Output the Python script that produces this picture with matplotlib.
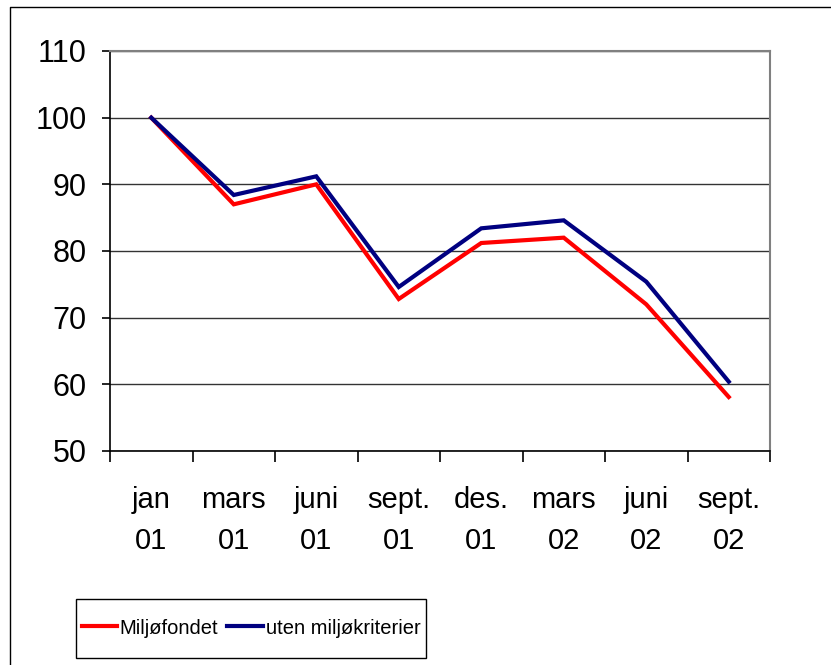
import matplotlib
matplotlib.use("Agg")
import matplotlib.pyplot as plt
from matplotlib.lines import Line2D
from matplotlib.patches import Rectangle

categories = ["jan\n01", "mars\n01", "juni\n01", "sept.\n01", "des.\n01", "mars\n02", "juni\n02", "sept.\n02"]
miljofondet = [100, 87.0, 90.0, 72.8, 81.2, 82.0, 72.0, 58.1]
uten = [100, 88.4, 91.2, 74.6, 83.4, 84.6, 75.4, 60.4]
yticks = [50, 60, 70, 80, 90, 100, 110]

W, H = 831, 665
fig = plt.figure(figsize=(W / 100, H / 100), dpi=100)
ax = fig.add_axes([110 / W, (H - 451) / H, 660 / W, 400 / H])

x = list(range(len(categories)))
l1, = ax.plot(x, miljofondet, color="#ff0000", lw=3.0, solid_joinstyle="miter", label="Miljøfondet", zorder=3)
l2, = ax.plot(x, uten, color="#000080", lw=3.0, solid_joinstyle="miter", label="uten miljøkriterier", zorder=3)

ax.set_xlim(-0.5, len(categories) - 0.5)
ax.set_ylim(50, 110)
ax.set_yticks(yticks)
ax.set_yticklabels([str(v) for v in yticks], fontfamily="Liberation Sans", fontsize=22)
ax.yaxis.grid(True, color="#333333", lw=1.0)
ax.set_axisbelow(True)

ax.set_xticks(x)
ax.set_xticklabels(categories, fontfamily="Liberation Sans", fontsize=21, linespacing=1.6)
ax.set_xticks([i - 0.5 for i in range(len(categories) + 1)], minor=True)
ax.tick_params(axis="x", which="major", length=0, pad=25)
ax.tick_params(axis="x", which="minor", length=8, width=1.2, direction="out", color="black")
ax.tick_params(axis="y", which="major", length=6, width=1.2, direction="out", color="black", pad=11)

for s in ["top", "right"]:
    ax.spines[s].set_color("#808080")
    ax.spines[s].set_linewidth(1.5)
for s in ["left", "bottom"]:
    ax.spines[s].set_color("black")
    ax.spines[s].set_linewidth(1.2)

# outer chart border (left and top edges visible)
fig.add_artist(Line2D([10 / W, 10 / W, 1.01], [-0.01, 1 - 7 / H, 1 - 7 / H],
                      transform=fig.transFigure, color="black", lw=1.0))

leg = fig.legend(handles=[l1, l2], loc="center", bbox_to_anchor=(251 / W, 1 - 628 / H),
                 ncol=2, frameon=False,
                 prop={"family": "Liberation Sans", "size": 14.5},
                 handlelength=1.75, handletextpad=0.15, columnspacing=0.45,
                 borderpad=0.0, borderaxespad=0)

fig.canvas.draw()
bb = leg.get_window_extent()
pad = 6
x0 = bb.x0 - pad
w = bb.width + 2 * pad
y0 = H - 658
h = 59
fig.add_artist(Rectangle((x0 / W, y0 / H), w / W, h / H, transform=fig.transFigure,
                         facecolor="none", edgecolor="black", lw=1.0))

fig.savefig("out.png", dpi=100)
